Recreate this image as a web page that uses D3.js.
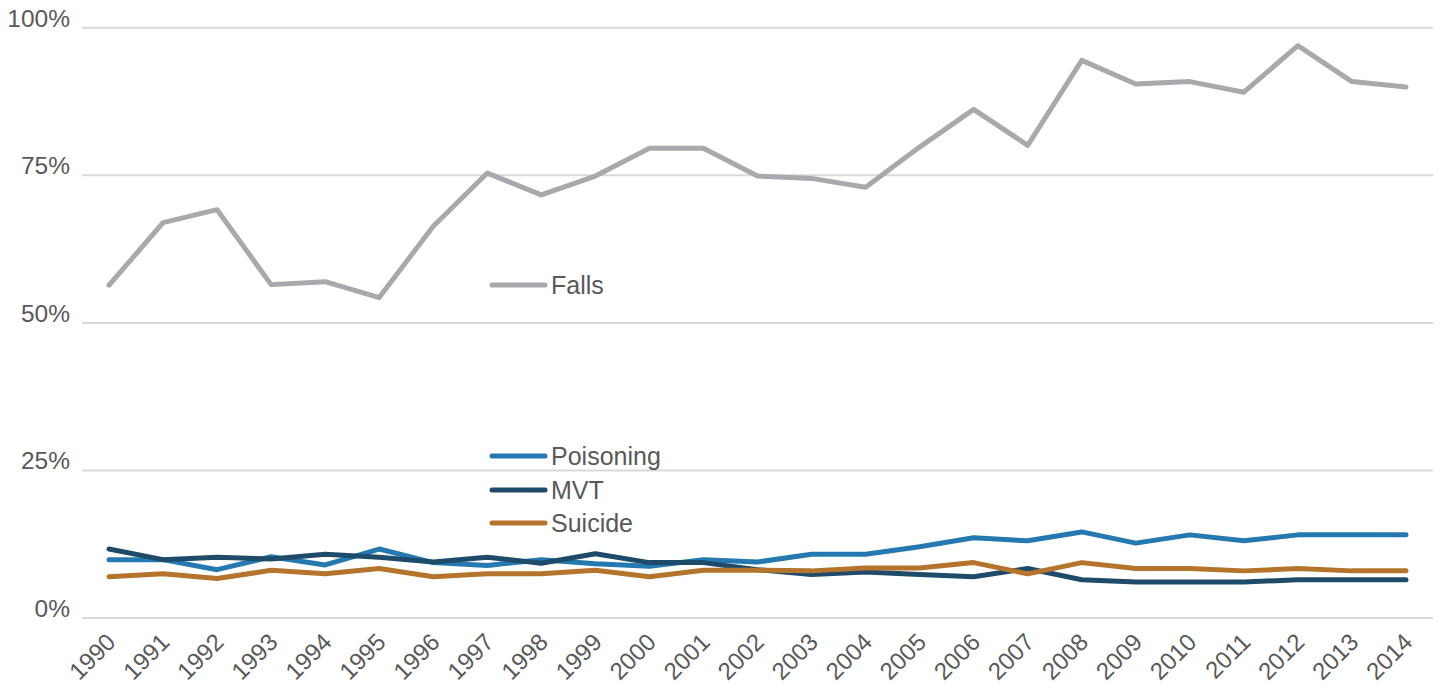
<!DOCTYPE html>
<html>
<head>
<meta charset="utf-8">
<script src="https://cdn.jsdelivr.net/npm/d3@7"></script>
<style>
body { margin: 0; background: #fff; }
svg { display: block; font-family: "Liberation Sans", Arial, sans-serif; }
.axis text { fill: #595959; }
</style>
</head>
<body>
<div class="chart"></div>
<script>
const years = ['1990','1991','1992','1993','1994','1995','1996','1997','1998','1999','2000','2001','2002','2003','2004','2005','2006','2007','2008','2009','2010','2011','2012','2013','2014'];

const falls     = [56.3,66.9,69.1,56.4,56.9,54.2,66.3,75.3,71.6,74.8,79.5,79.5,74.8,74.4,72.9,79.7,86.1,80.0,94.4,90.4,90.8,89.0,96.9,90.8,89.9];
const poisoning = [9.8,9.8,8.1,10.3,8.9,11.6,9.3,8.8,9.8,9.1,8.7,9.8,9.4,10.7,10.7,12.0,13.5,13.0,14.5,12.6,14.0,13.0,14.0,14.0,14.0];
const mvt       = [11.6,9.8,10.2,9.9,10.7,10.2,9.4,10.2,9.2,10.8,9.3,9.3,8.1,7.3,7.7,7.3,6.9,8.3,6.4,6.0,6.0,6.0,6.4,6.4,6.4];
const suicide   = [6.9,7.4,6.6,8.0,7.4,8.3,6.9,7.4,7.4,8.0,6.9,8.0,8.0,7.9,8.4,8.4,9.3,7.4,9.3,8.3,8.3,7.9,8.3,7.9,7.9];

const yTicks = [0,25,50,75,100];

const series = [
  {name:'Falls', values: falls, color:'#A7A9AC'},
  {name:'Poisoning', values: poisoning, color:'#2479B0'},
  {name:'MVT', values: mvt, color:'#1F4B6B'},
  {name:'Suicide', values: suicide, color:'#B5742B'}
];

const w = 1440;
const h = 688;
const plotLeft = 82, plotRight = 1433, plotTop = 27.3, plotBottom = 617.5;

const svg = d3.select('.chart')
    .append('svg')
    .attr('width', w)
    .attr('height', h);

const x = d3.scaleBand().domain(years).range([plotLeft, plotRight]);
const y = d3.scaleLinear().domain([0, 100]).range([plotBottom, plotTop]);

// gridlines + y labels
const yAxis = svg.append('g')
    .attr('class','axis')
    .attr('transform', `translate(${plotLeft},0)`)
    .call(d3.axisLeft(y).tickValues(yTicks).tickSize(-(plotRight-plotLeft)).tickFormat(d=>d+'%').tickPadding(12));
yAxis.select('.domain').remove();
yAxis.selectAll('line').attr('stroke','#D9D9D9').attr('stroke-width',2);
yAxis.selectAll('text').attr('font-size',24.5).attr('dy','-0.05em');

// x labels
const xAxis = svg.append('g')
    .attr('class','axis')
    .attr('transform', `translate(0,${plotBottom})`)
    .call(d3.axisBottom(x).tickSize(0).tickPadding(0));
xAxis.select('.domain').remove();
xAxis.selectAll('text')
    .attr('font-size',24)
    .attr('text-anchor','end')
    .attr('dy', 0)
    .attr('transform','translate(8,26) rotate(-45)');

const line = d3.line()
    .x((d,i)=>x(years[i]) + x.bandwidth()/2)
    .y(d=>y(d));

svg.selectAll('path.series')
    .data(series)
    .enter()
    .append('path')
    .attr('class','series')
    .attr('d', d=>line(d.values))
    .attr('fill','none')
    .attr('stroke', d=>d.color)
    .attr('stroke-width', 5)
    .attr('stroke-linecap','round')
    .attr('stroke-linejoin','round');

// legend
const legendY = [285, 456, 490, 523];
const lg = svg.selectAll('g.legend')
    .data(series)
    .enter()
    .append('g')
    .attr('class','legend')
    .attr('transform', (d,i)=>`translate(492,${legendY[i]})`);
lg.append('line')
    .attr('x1',0).attr('x2',53)
    .attr('stroke', d=>d.color)
    .attr('stroke-width',5)
    .attr('stroke-linecap','round');
lg.append('text')
    .attr('x',59)
    .attr('dy','0.36em')
    .attr('font-size',25)
    .attr('fill','#595959')
    .text(d=>d.name);
</script>
</body>
</html>
